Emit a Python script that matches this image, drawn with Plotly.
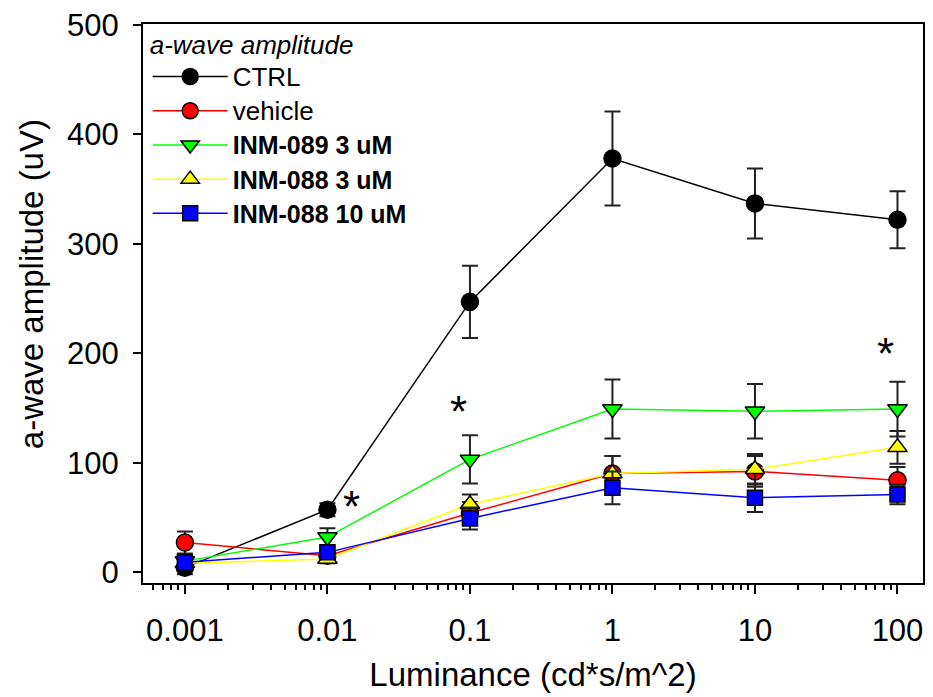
import math
import plotly.graph_objects as go

lum = [0.001, 0.01, 0.1, 1, 10, 100]

ctrl = [4, 57, 247, 378, 337, 322]
ctrl_err = [6, 6, 33, 43, 32, 26]
vehicle = [27, 15, 54, 90, 92, 84]
vehicle_err = [10, 4, 10, 16, 14, 12]
inm089_3 = [10, 32, 103, 149, 147, 149]
inm089_3_err = [5, 8, 22, 27, 25, 25]
inm088_3 = [8, 12, 62, 90, 94, 114]
inm088_3_err = [4, 4, 9, 16, 14, 15]
inm088_10 = [9, 18, 49, 77, 68, 71]
inm088_10_err = [5, 5, 10, 15, 13, 9]

series = [
    ('<span style="font-size:26px">CTRL</span>', ctrl, ctrl_err, "#000000", "circle"),
    ('<span style="font-size:26px">vehicle</span>', vehicle, vehicle_err, "#ff0000", "circle"),
    ('<span style="font-size:25px"><b>INM-089 3 uM</b></span>', inm089_3, inm089_3_err, "#00ff00", "triangle-down"),
    ('<span style="font-size:25px"><b>INM-088 3 uM</b></span>', inm088_3, inm088_3_err, "#ffff00", "triangle-up"),
    ('<span style="font-size:25px"><b>INM-088 10 uM</b></span>', inm088_10, inm088_10_err, "#0000ff", "square"),
]

tick_vals = [0.001, 0.01, 0.1, 1, 10, 100]
tick_text = ["0.001", "0.01", "0.1", "1", "10", "100"]

star_x = [0.0148, 0.083, 82]
star_y = [65, 152, 205]

fig = go.Figure()
for i, (name, vals, errs, col, sym) in enumerate(series):
    fig.add_trace(go.Scatter(
        x=lum, y=vals, name=name, mode="lines+markers",
        legendgroup="g%d" % i,
        line=dict(color=col, width=1.5),
        marker=dict(symbol=sym, size=17 if sym != "square" else 15, color=col,
                    line=dict(color="#000000", width=1.5)),
        error_y=dict(type="data", array=errs, visible=True, color="#222222",
                     thickness=2, width=8),
    ))

for sx, sy in zip(star_x, star_y):
    fig.add_annotation(x=math.log10(sx), y=sy, text="*", showarrow=False,
                       font=dict(size=44, color="#000000", family="Liberation Sans, Arial"),
                       yshift=-6)

fig.add_annotation(xref="paper", yref="paper", x=-0.142, y=0.535,
                   text="a-wave amplitude (uV)", textangle=-90, showarrow=False,
                   xanchor="center", yanchor="middle",
                   font=dict(size=33, color="#000000"))

fig.update_layout(
    width=933, height=697,
    margin=dict(l=143, r=8, t=17, b=114),
    paper_bgcolor="white", plot_bgcolor="white",
    font=dict(family="Liberation Sans, Arial", color="#000000"),
    showlegend=True,
    legend=dict(
        x=0.006, y=1.006, xanchor="left", yanchor="top",
        bgcolor="rgba(0,0,0,0)",
        title=dict(text="<i>a-wave amplitude</i>", font=dict(size=26)),
        font=dict(size=24, family="Liberation Sans, Arial"),
        tracegroupgap=0,
        itemwidth=75,
    ),
    xaxis=dict(
        type="log", range=[-3.294, 2.179],
        tickvals=tick_vals, ticktext=tick_text,
        ticks="outside", ticklen=9, tickwidth=1.5, tickcolor="#000000",
        showline=True, linecolor="#000000", linewidth=2, mirror=True,
        showgrid=False, zeroline=False,
        tickfont=dict(size=31),
        ticklabelstandoff=10,
        minor=dict(ticks="outside", ticklen=5, dtick="D1", tickcolor="#000000", showgrid=False),
        title=dict(text="Luminance (cd*s/m^2)", font=dict(size=33), standoff=16),
    ),
    yaxis=dict(
        range=[-10, 501],
        tickvals=[0, 100, 200, 300, 400, 500],
        ticks="outside", ticklen=8, tickwidth=1.5, tickcolor="#000000",
        showline=True, linecolor="#000000", linewidth=2, mirror=True,
        showgrid=False, zeroline=False,
        tickfont=dict(size=31),
        ticklabelstandoff=8,
    ),
)

fig.write_html("out.html")
